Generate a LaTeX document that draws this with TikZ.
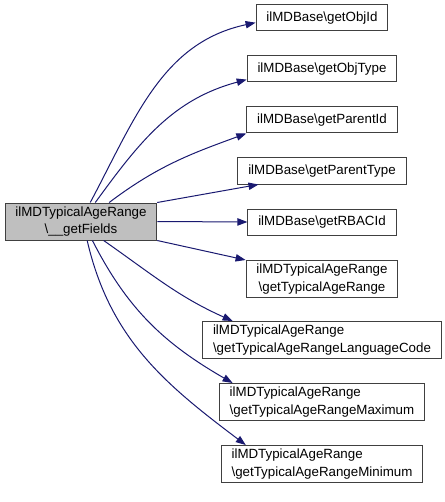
\documentclass[tikz,border=0pt]{standalone}
\usepackage{fontspec}
\setmainfont{Liberation Sans}
\usetikzlibrary{arrows.meta,positioning}
\definecolor{edgeblue}{RGB}{25,25,112}
\definecolor{boxgrey}{RGB}{64,64,64}
\definecolor{maingrey}{RGB}{191,191,191}

\begin{document}
\begin{tikzpicture}[x=0.75pt,y=-0.75pt,on grid,node distance=38.25pt]
       \tikzstyle{fn}=[draw=boxgrey, fill=white, rectangle, line width=0.75pt,
         inner xsep=7.75pt, inner ysep=0pt, minimum height=19.5pt,
         font=\fontsize{10}{13}\selectfont]
       \tikzstyle{fntwo}=[fn, minimum height=27.75pt, align=left]
       \tikzstyle{call}=[color=edgeblue, line width=0.75pt,
         -{Triangle[length=7.5pt,width=5.5pt]}]

       \useasboundingbox (0,0) rectangle (445,502);

       \node[fn, fill=maingrey, minimum height=27.75pt, align=center] (main) at (81,221.5)
         {ilMDTypicalAgeRange\\\textbackslash\_\_getFields};

       \node[fn] (objid) at (322,18) {ilMDBase\textbackslash getObjId};
       \node[fn] (objtype) [below=of objid] {ilMDBase\textbackslash getObjType};
       \node[fn] (parentid) [below=of objtype] {ilMDBase\textbackslash getParentId};
       \node[fn] (parenttype) [below=of parentid] {ilMDBase\textbackslash getParentType};
       \node[fn] (rbacid) [below=of parenttype] {ilMDBase\textbackslash getRBACId};
       \node[fntwo, align=center] (range) [below=42.75pt of rbacid]
         {ilMDTypicalAgeRange\\\textbackslash getTypicalAgeRange};
       \node[fntwo] (langcode) [below=45.75pt of range]
         {ilMDTypicalAgeRange\\\textbackslash getTypicalAgeRangeLanguageCode};
       \node[fntwo] (maximum) [below=46.5pt of langcode]
         {ilMDTypicalAgeRange\\\textbackslash getTypicalAgeRangeMaximum};
       \node[fntwo] (minimum) [below=46.5pt of maximum]
         {ilMDTypicalAgeRange\\\textbackslash getTypicalAgeRangeMinimum};

       \path[call]
       (main.64) edge [out=62, in=192] (objid.184)
       (main.53) edge [out=54, in=195] (objtype.188)
       (main.34) edge [out=37, in=200] (parentid.south west)
       (main.14) edge [] (parenttype.192)
       (main.east) edge [] (rbacid.west)
       (main.-14) edge [] (range.north west)
       (main.-40) edge [out=-35, in=156] (langcode.168)
       (main.-59) edge [out=-63, in=150] (maximum.168)
       (main.-72) edge [out=-77, in=143] (minimum.166);
\end{tikzpicture}
\end{document}
